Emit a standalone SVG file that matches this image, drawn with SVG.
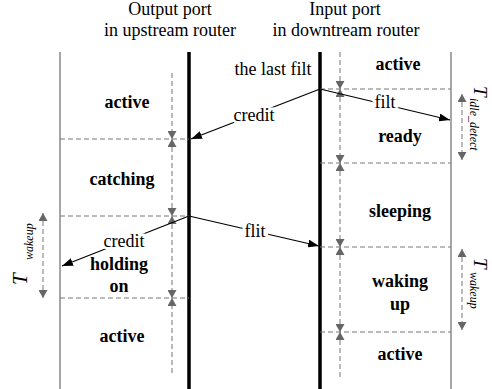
<svg xmlns="http://www.w3.org/2000/svg" width="492" height="389" viewBox="0 0 492 389">
<style>
text{font-family:"Liberation Serif","Times New Roman",serif;fill:#000}
.t{font-size:18px;text-anchor:middle}
.b{font-size:18px;font-weight:bold;text-anchor:middle}
.lbl{font-size:18px;text-anchor:middle;stroke:#fff;stroke-width:5;paint-order:stroke}
.T{font-size:21px;font-style:italic}
.Tr{font-size:19px;font-style:italic}
.sub{font-size:12px;font-style:italic}
.gray{stroke:#a6a6a6;stroke-width:2}
.thick{stroke:#000;stroke-width:3.5}
.dash{stroke:#777;stroke-width:1;stroke-dasharray:5 3;fill:none}
.dv{stroke:#777;stroke-width:1;stroke-dasharray:5 3;fill:none;marker-end:url(#ga)}
.dd{stroke:#777;stroke-width:1;stroke-dasharray:5 3;fill:none;marker-start:url(#ga);marker-end:url(#ga)}
.conn{stroke:#000;stroke-width:1.2;fill:none;marker-end:url(#ba)}
</style>
<defs>
<marker id="ga" viewBox="0 0 8 9" refX="8" refY="4.5" markerWidth="8" markerHeight="9" markerUnits="userSpaceOnUse" orient="auto-start-reverse"><path d="M0,0 L8,4.5 L0,9 z" fill="#666"/></marker>
<marker id="ba" viewBox="0 0 11 8" refX="11" refY="4" markerWidth="11" markerHeight="8" markerUnits="userSpaceOnUse" orient="auto"><path d="M0,0 L11,4 L0,8 z" fill="#000"/></marker>
</defs>
<g id="headers">
<text class="t" x="170" y="15">Output port</text>
<text class="t" x="170" y="36">in upstream router</text>
<text class="t" x="345" y="15">Input port</text>
<text class="t" x="346" y="36">in downtream router</text>
</g>
<g id="timelines">
<line class="gray" x1="60" y1="52" x2="60" y2="389"/>
<line class="thick" x1="189" y1="52" x2="189" y2="389"/>
<line class="thick" x1="320" y1="52" x2="320" y2="389"/>
<line class="gray" x1="451" y1="52" x2="451" y2="389"/>
</g>
<g id="boundaries">
<line class="dash" x1="60" y1="139" x2="189" y2="139"/>
<line class="dash" x1="60" y1="216" x2="189" y2="216"/>
<line class="dash" x1="60" y1="298" x2="189" y2="298"/>
<line class="dash" x1="320" y1="89" x2="451" y2="89"/>
<line class="dash" x1="320" y1="163" x2="451" y2="163"/>
<line class="dash" x1="320" y1="247" x2="451" y2="247"/>
<line class="dash" x1="320" y1="332" x2="451" y2="332"/>
</g>
<g id="durations">
<line class="dv" x1="172" y1="73" x2="172" y2="139"/>
<line class="dd" x1="172" y1="139" x2="172" y2="216"/>
<line class="dd" x1="172" y1="216" x2="172" y2="298"/>
<line class="dv" x1="172" y1="373" x2="172" y2="298"/>
<line class="dv" x1="340" y1="52" x2="340" y2="89"/>
<line class="dd" x1="340" y1="89" x2="340" y2="163"/>
<line class="dd" x1="340" y1="163" x2="340" y2="247"/>
<line class="dd" x1="340" y1="247" x2="340" y2="332"/>
<line class="dv" x1="340" y1="377" x2="340" y2="332"/>
</g>
<g id="state-up-active"><text class="b" x="127" y="108">active</text></g>
<g id="state-up-catching"><text class="b" x="122" y="185">catching</text></g>
<g id="state-up-holding"><text class="b" x="119" y="270">holding</text><text class="b" x="119" y="292">on</text></g>
<g id="state-up-active2"><text class="b" x="122" y="342">active</text></g>
<g id="state-down-active"><text class="b" x="398" y="70">active</text></g>
<g id="state-down-ready"><text class="b" x="400" y="142">ready</text></g>
<g id="state-down-sleeping"><text class="b" x="400" y="217">sleeping</text></g>
<g id="state-down-waking"><text class="b" x="400" y="287">waking</text><text class="b" x="400" y="310">up</text></g>
<g id="state-down-active2"><text class="b" x="400" y="360">active</text></g>
<g id="last-flit"><text class="t" x="273" y="75">the last filt</text></g>
<g id="connectors">
<line class="conn" x1="320" y1="89" x2="191" y2="139"/>
<line class="conn" x1="320" y1="89" x2="450" y2="120"/>
<line class="conn" x1="189" y1="216" x2="319" y2="246"/>
<line class="conn" x1="189" y1="216" x2="62" y2="266"/>
<text class="lbl" x="254" y="121">credit</text>
<text class="lbl" x="385" y="108">filt</text>
<text class="lbl" x="255" y="237">flit</text>
<text class="lbl" x="124" y="247">credit</text>
</g>
<g id="t-idle-detect">
<line class="dd" x1="462" y1="94" x2="462" y2="160"/>
<text transform="translate(474,86) rotate(90)"><tspan class="Tr">T</tspan><tspan class="sub" x="12" y="4">idle_detect</tspan></text>
</g>
<g id="t-wakeup-right">
<line class="dd" x1="462" y1="249" x2="462" y2="330"/>
<text transform="translate(474,258) rotate(90)"><tspan class="Tr">T</tspan><tspan class="sub" x="14" y="4">wakeup</tspan></text>
</g>
<g id="t-wakeup-left">
<line class="dd" x1="43" y1="213" x2="43" y2="298"/>
<text transform="translate(27,285) rotate(-90)"><tspan class="T">T</tspan><tspan class="sub" x="25" y="6">wakeup</tspan></text>
</g>
</svg>
